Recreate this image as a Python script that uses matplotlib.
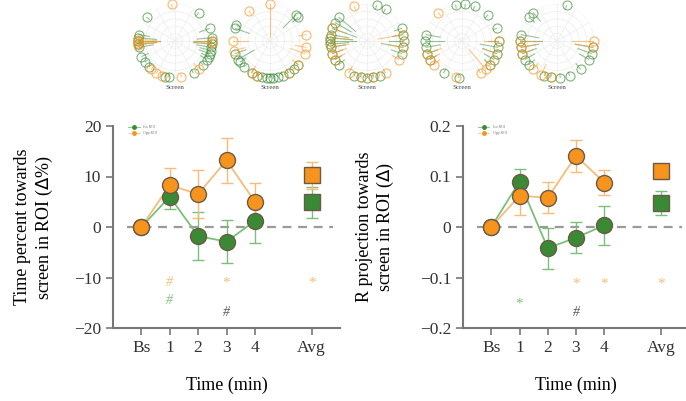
import numpy as np
import matplotlib
matplotlib.use("Agg")
import matplotlib.pyplot as plt

plt.rcParams['font.family'] = ['Liberation Serif', 'DejaVu Serif']

GREEN = '#3a8a35'
ORANGE = '#f7941d'
GREEN_L = '#7cbf7c'
ORANGE_L = '#f9bb78'
EDGE = '#6b5a45'

# x positions: Bs, 1, 2, 3, 4 and Avg
time_labels = ['Bs', '1', '2', '3', '4', 'Avg']
time_x = [0, 1, 2, 3, 4]
avg_x = 6
series_names = ['Iso ROI', 'Opp ROI']

# left panel: time percent towards screen
pct_green = [0, 6.0, -1.8, -2.9, 1.2]
pct_green_err = [0, 2.5, 4.7, 4.3, 4.4]
pct_green_avg, pct_green_avg_err = 4.9, 3.1
pct_orange = [0, 8.3, 6.5, 13.2, 5.0]
pct_orange_err = [0, 3.4, 4.8, 4.4, 3.7]
pct_orange_avg, pct_orange_avg_err = 10.2, 2.6

# right panel: R projection towards screen
r_green = [0, 0.090, -0.042, -0.021, 0.003]
r_green_err = [0, 0.024, 0.041, 0.031, 0.039]
r_green_avg, r_green_avg_err = 0.048, 0.024
r_orange = [0, 0.062, 0.058, 0.141, 0.088]
r_orange_err = [0, 0.038, 0.031, 0.032, 0.025]
r_orange_avg, r_orange_avg_err = 0.110, 0.015

# significance marks: (x, y, text, colour key)
pct_marks = [(1, -11, '#', 'o'), (1, -14.5, '#', 'g'), (3, -11, '*', 'o'),
             (6, -11, '*', 'o'), (3, -17, '#', 'k')]
r_marks = [(3, -0.113, '*', 'o'), (4, -0.113, '*', 'o'), (6, -0.113, '*', 'o'),
           (1, -0.152, '*', 'g'), (3, -0.170, '#', 'k')]

# polar panels: angles (deg) of each fish and inner radius of its spike
polar_green = [
    [175, 180, 185, 190, 170, 140, 205, 215, 225, 5, 0, -5, -10, -15, -20, -25, -30, -40, -60, -100, -105, 50, 20],
    [155, 160, 200, 210, 215, 225, 240, 250, 258, 265, 270, 275, 282, 290, 300, 310, 320, 40, 45],
    [140, 150, 160, 170, 175, 180, 185, 190, 200, 210, 220, 250, 260, 270, 280, 290, 340, 350, 0, 10, 20, 75, 60],
    [85, 70, 100, 45, 170, 180, 190, 200, 210, 240, 0, -10, -20, -30, -40, 20, 265],
    [75, 130, 140, 170, 180, 190, 200, 210, 220, 250, 260, 275, 290, 340, 350, -30, -50],
]
polar_green_in = [
    [0.5, 0.4, 0.5, 0.6, 0.7, 0.9, 0.8, 0.9, 0.9, 0.6, 0.5, 0.5, 0.6, 0.7, 0.7, 0.8, 0.8, 0.9, 0.9, 0.9, 0.9, 0.9, 0.7],
    [0.9, 0.6, 0.7, 0.5, 0.8, 0.9, 0.9, 0.9, 0.9, 0.9, 0.9, 0.9, 0.9, 0.9, 0.9, 0.9, 0.9, 0.8, 0.5],
    [0.4, 0.5, 0.3, 0.5, 0.4, 0.3, 0.5, 0.6, 0.7, 0.8, 0.8, 0.9, 0.9, 0.9, 0.9, 0.9, 0.7, 0.4, 0.6, 0.7, 0.8, 0.9, 0.9],
    [0.9, 0.9, 0.9, 0.9, 0.6, 0.5, 0.6, 0.7, 0.8, 0.9, 0.7, 0.5, 0.6, 0.7, 0.8, 0.9, 0.9],
    [0.9, 0.7, 0.8, 0.5, 0.4, 0.5, 0.6, 0.7, 0.8, 0.9, 0.9, 0.9, 0.9, 0.6, 0.5, 0.7, 0.8],
]
polar_orange = [
    [95, 180, 178, 183, 186, 230, 240, -80, -50, 0, -3, -110],
    [90, 125, 180, 195, 240, 250, 300, 320, 340, 350, 10],
    [110, 160, 175, 190, 200, 210, 240, 260, 280, 300, 10, 350, 330],
    [130, 200, 210, 220, 300, 310, 320, 340, 0, 260],
    [180, 190, 200, 0, 350, 230, 245, 260],
]
polar_orange_in = [
    [0.9, 0.4, 0.5, 0.45, 0.55, 0.9, 0.9, 0.9, 0.8, 0.5, 0.5, 0.9],
    [0.1, 0.9, 0.6, 0.7, 0.8, 0.9, 0.9, 0.8, 0.6, 0.7, 0.8],
    [0.9, 0.6, 0.4, 0.5, 0.6, 0.7, 0.8, 0.9, 0.9, 0.9, 0.3, 0.6, 0.8],
    [0.9, 0.6, 0.7, 0.8, 0.9, 0.3, 0.8, 0.6, 0.6, 0.9],
    [0.5, 0.6, 0.7, 0.4, 0.5, 0.8, 0.7, 0.9],
]
polar_centers = [175, 270, 367, 462, 557]

W, H = 686, 401
fig = plt.figure(figsize=(W / 100, H / 100), dpi=100)

# top polar panels
R = 37
for i, cx in enumerate(polar_centers):
    pax = fig.add_axes([(cx - R) / W, 1 - (41 + R) / H, 2 * R / W, 2 * R / H],
                       projection='polar')
    pax.set_ylim(0, 1)
    pax.set_xticks(np.deg2rad(np.arange(0, 360, 30)))
    pax.set_yticks([0.2, 0.4, 0.6, 0.8, 1.0])
    pax.set_xticklabels([])
    pax.set_yticklabels([])
    pax.grid(color='#ececec', lw=0.5)
    pax.spines['polar'].set_visible(False)
    for angs, ins, col in [(polar_green[i], polar_green_in[i], GREEN),
                           (polar_orange[i], polar_orange_in[i], ORANGE)]:
        th = np.deg2rad(angs)
        for t, r0 in zip(th, ins):
            pax.plot([t, t], [r0, 1.0], color=col, lw=0.8, alpha=0.5)
        pax.plot(th, np.ones(len(th)), 'o', mfc='none', mec=col, ms=6.5,
                 mew=0.8, alpha=0.65, clip_on=False)
    pax.text(0.5, -0.1, 'Screen', transform=pax.transAxes, ha='center',
             va='top', fontsize=5, color='#444')


def panel(rect, g, ge, ga, gae, o, oe, oa, oae, marks, ylim, yticks, ytl, ylabel, ypad):
    ax = fig.add_axes(rect)
    ax.axhline(0, xmin=0.06, xmax=0.97, color='#9a9a9a', ls=(0, (4, 3)), lw=1.6, zorder=1)
    for y, ye, ya, yae, col, lcol in [(g, ge, ga, gae, GREEN, GREEN_L),
                                      (o, oe, oa, oae, ORANGE, ORANGE_L)]:
        ax.errorbar(time_x, y, yerr=ye, fmt='none', ecolor=lcol, elinewidth=1,
                    capsize=4, capthick=1, zorder=2)
        ax.plot(time_x, y, '-', color=lcol, lw=1.3, zorder=3)
        ax.plot(time_x, y, 'o', color=col, mec=EDGE, mew=1.0, ms=11.5, zorder=4)
        ax.errorbar([avg_x], [ya], yerr=[yae], fmt='none', ecolor=lcol,
                    elinewidth=1, capsize=4, capthick=1, zorder=2)
        ax.plot([avg_x], [ya], 's', color=col, mec=EDGE, mew=1.0, ms=11, zorder=4)
    # legend handles
    hg, = ax.plot([], [], '-o', color=GREEN_L, mfc=GREEN, mec=GREEN, ms=2.5, lw=0.6)
    ho, = ax.plot([], [], '--o', color=ORANGE_L, mfc=ORANGE, mec=ORANGE, ms=2.5, lw=0.6)
    ax.legend([hg, ho], series_names, loc='upper left', bbox_to_anchor=(0.05, 1.02),
              fontsize=2.8, frameon=False, handlelength=3, labelcolor='#777')
    colmap = {'o': ORANGE_L, 'g': GREEN_L, 'k': '#555555'}
    for x, y, t, c in marks:
        ax.text(x, y, t, color=colmap[c], ha='center', va='center',
                fontsize=11 if t == '*' else 10,
                style='italic' if t == '#' else 'normal')
    ax.set_xlim(-1, 7)
    ax.set_ylim(*ylim)
    ax.set_yticks(yticks)
    ax.set_yticklabels(ytl)
    ax.set_xticks(time_x + [avg_x])
    ax.set_xticklabels(time_labels)
    ax.set_xlabel('Time (min)', fontsize=13, labelpad=15)
    ax.set_ylabel(ylabel, fontsize=13, labelpad=ypad, linespacing=1.15)
    for s in ['top', 'right']:
        ax.spines[s].set_visible(False)
    for s in ['left', 'bottom']:
        ax.spines[s].set_color('#777')
        ax.spines[s].set_linewidth(1.5)
    ax.tick_params(colors='#333', labelsize=12.5, width=1.2, length=5, color='#777')
    return ax


panel([113 / W, 1 - 328 / H, 227 / W, 202 / H],
      pct_green, pct_green_err, pct_green_avg, pct_green_avg_err,
      pct_orange, pct_orange_err, pct_orange_avg, pct_orange_avg_err,
      pct_marks, (-20, 20), [-20, -10, 0, 10, 20],
      ['\u221220', '\u221210', '0', '10', '20'],
      'Time percent towards\nscreen in ROI ($\\Delta$%)', 14)

panel([463 / W, 1 - 328 / H, 226 / W, 202 / H],
      r_green, r_green_err, r_green_avg, r_green_avg_err,
      r_orange, r_orange_err, r_orange_avg, r_orange_avg_err,
      r_marks, (-0.2, 0.2), [-0.2, -0.1, 0, 0.1, 0.2],
      ['\u22120.2', '\u22120.1', '0', '0.1', '0.2'],
      'R projection towards\nscreen in ROI ($\\Delta$)', 17)

fig.savefig('out.png', dpi=100)
